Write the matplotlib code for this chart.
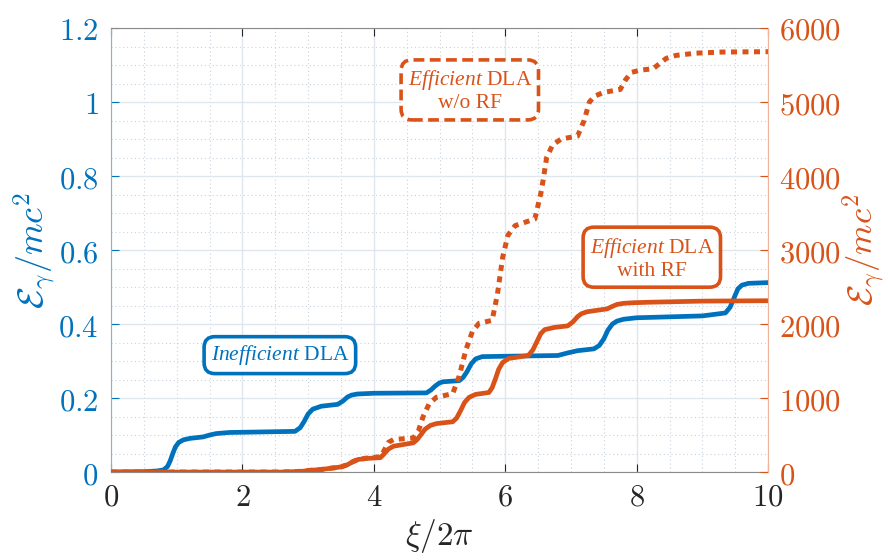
import matplotlib
matplotlib.use("Agg")
import matplotlib.pyplot as plt
from matplotlib.ticker import MultipleLocator, FuncFormatter, FixedLocator

plt.rcParams['mathtext.fontset'] = 'cm'
plt.rcParams['mathtext.it'] = 'Liberation Serif:italic'
plt.rcParams['mathtext.rm'] = 'Liberation Serif'
plt.rcParams['font.family'] = ['DejaVu Serif']

BLUE = '#0072BD'
ORANGE = '#D95319'

# ---------------- data ----------------
xi_ineff = [0, 0.5, 0.7, 0.8, 0.86, 0.9, 0.94, 0.98, 1.03, 1.1, 1.2, 1.4, 1.5,
            1.6, 1.8, 2.8, 2.88, 2.94, 3.0, 3.07, 3.2, 3.45, 3.53, 3.6, 3.66,
            3.75, 4.0, 4.8, 4.87, 4.93, 4.99, 5.05, 5.3, 5.36, 5.42, 5.48,
            5.55, 5.65, 6.0, 6.8, 6.95, 7.1, 7.35, 7.43, 7.5, 7.56, 7.63, 7.7,
            7.8, 8.0, 9.0, 9.35, 9.42, 9.48, 9.54, 9.6, 9.7, 10]
E_ineff = [0, 0.001, 0.003, 0.006, 0.015, 0.03, 0.05, 0.068, 0.08, 0.087,
           0.091, 0.095, 0.1, 0.104, 0.107, 0.11, 0.12, 0.137, 0.157, 0.17,
           0.178, 0.183, 0.192, 0.203, 0.208, 0.211, 0.213, 0.214, 0.222,
           0.232, 0.24, 0.244, 0.247, 0.256, 0.272, 0.292, 0.306, 0.312, 0.313,
           0.315, 0.322, 0.328, 0.333, 0.342, 0.36, 0.383, 0.4, 0.408, 0.413,
           0.417, 0.422, 0.43, 0.445, 0.47, 0.495, 0.505, 0.51, 0.512]

xi_rf = [0, 2.6, 2.9, 3.05, 3.2, 3.5, 3.6, 3.68, 3.76, 3.9, 4.1, 4.15, 4.22,
         4.3, 4.6, 4.66, 4.72, 4.78, 4.86, 4.95, 5.2, 5.26, 5.32, 5.38, 5.45,
         5.55, 5.75, 5.8, 5.85, 5.9, 5.96, 6.05, 6.35, 6.42, 6.48, 6.54, 6.6,
         6.75, 6.95, 7.03, 7.1, 7.16, 7.24, 7.35, 7.55, 7.62, 7.7, 7.8, 7.95,
         8.2, 9.0, 10]
E_rf = [0, 0, 10, 25, 35, 70, 100, 140, 170, 185, 195, 240, 310, 350, 395, 440,
        510, 580, 630, 655, 680, 730, 830, 940, 1010, 1050, 1075, 1140, 1260,
        1390, 1480, 1535, 1575, 1650, 1760, 1870, 1925, 1955, 1975, 2030, 2100,
        2140, 2165, 2180, 2205, 2235, 2265, 2280, 2288, 2295, 2310, 2315]

xi_norf = [0, 2.6, 2.9, 3.05, 3.2, 3.5, 3.6, 3.68, 3.76, 3.9, 4.1, 4.15, 4.22,
           4.3, 4.6, 4.68, 4.75, 4.84, 4.95, 5.2, 5.3, 5.4, 5.5, 5.6, 5.8,
           5.88, 5.96, 6.04, 6.15, 6.45, 6.55, 6.63, 6.72, 6.85, 7.1, 7.2,
           7.28, 7.36, 7.5, 7.75, 7.83, 7.92, 8.05, 8.25, 8.35, 8.45, 8.6, 8.9,
           9.3, 10]
E_norf = [0, 0, 10, 25, 35, 70, 100, 140, 170, 190, 207, 280, 400, 440, 460,
          560, 750, 920, 1010, 1060, 1300, 1650, 1900, 2010, 2050, 2400, 2900,
          3200, 3330, 3420, 3800, 4250, 4420, 4500, 4540, 4750, 5000, 5080,
          5130, 5170, 5300, 5400, 5430, 5450, 5520, 5590, 5630, 5660, 5675, 5680]

x_ticks = [0, 2, 4, 6, 8, 10]
yl_ticks = [0, 0.2, 0.4, 0.6, 0.8, 1.0, 1.2]
yr_ticks = [0, 1000, 2000, 3000, 4000, 5000, 6000]

# ---------------- figure ----------------
fig = plt.figure(figsize=(8.88, 5.6), dpi=100)
ax = fig.add_axes([0.125, 0.157, 0.74, 0.793])
ax2 = ax.twinx()

ax.set_xlim(0, 10)
ax.set_ylim(0, 1.2)
ax2.set_ylim(0, 6000)

ax.xaxis.set_major_locator(FixedLocator(x_ticks))
ax.xaxis.set_minor_locator(MultipleLocator(0.5))
ax.yaxis.set_major_locator(FixedLocator(yl_ticks))
ax.yaxis.set_minor_locator(MultipleLocator(0.05))
ax2.yaxis.set_major_locator(FixedLocator(yr_ticks))

fmt = FuncFormatter(lambda v, p: '$%g$' % round(v, 3))
ax.xaxis.set_major_formatter(fmt)
ax.yaxis.set_major_formatter(fmt)
ax2.yaxis.set_major_formatter(fmt)

ax.grid(which='major', color='#dfe6ee', linewidth=1.0, linestyle='-')
ax.grid(which='minor', color='#c9d2dc', linewidth=0.8, linestyle=(0, (1, 2.5)))
ax.set_axisbelow(True)

ax.tick_params(axis='x', which='major', direction='in', length=6, width=0.8,
               colors='#262626', labelsize=22, top=True, pad=7)
ax.tick_params(axis='x', which='minor', length=0)
ax.tick_params(axis='y', which='major', direction='in', length=6, width=0.8,
               colors=BLUE, labelsize=22, pad=9)
ax.tick_params(axis='y', which='minor', length=0)
ax2.tick_params(axis='y', which='major', direction='in', length=6, width=0.8,
                colors=ORANGE, labelsize=22, pad=8)

for s in ['top', 'bottom']:
    ax.spines[s].set_color('#8a8a8a')
    ax2.spines[s].set_visible(False)
ax.spines['left'].set_color('#7fb3dc')
ax.spines['right'].set_visible(False)
ax2.spines['left'].set_visible(False)
ax2.spines['right'].set_color('#f0b49c')

ax.plot(xi_ineff, E_ineff, color=BLUE, lw=3.4, solid_capstyle='butt',
        solid_joinstyle='round')
ax2.plot(xi_rf, E_rf, color=ORANGE, lw=3.4, solid_capstyle='butt',
         solid_joinstyle='round')
ax2.plot(xi_norf, E_norf, color=ORANGE, lw=3.6, linestyle=(0, (1.2, 1.1)),
         dash_capstyle='butt')

ax.set_xlabel(r'$\xi/2\pi$', fontsize=24, color='#262626', labelpad=3)
ax.set_ylabel(r'$\mathcal{E}_\gamma/mc^2$', fontsize=26, color=BLUE, labelpad=0)
ax2.set_ylabel(r'$\mathcal{E}_\gamma/mc^2$', fontsize=25, color=ORANGE,
               rotation=90, labelpad=-1)


def box_text(x, y, s, color, ls='-'):
    t = ax.text(x, y, s, ha='center', va='center', fontsize=15.5, color=color,
                family='Liberation Serif', math_fontfamily='custom',
                linespacing=1.15,
                bbox=dict(boxstyle='round,pad=0.3,rounding_size=0.5',
                          facecolor='white', edgecolor=color, linewidth=2.6,
                          linestyle=ls))
    return t

box_text(2.57, 0.316, r'$\mathit{Inefficient}$ DLA', BLUE)
box_text(5.46, 1.03, '$\\mathit{Efficient}$ DLA\nw/o RF', ORANGE, ls=(0, (3, 1.5)))
box_text(8.23, 0.578, '$\\mathit{Efficient}$ DLA\nwith RF', ORANGE)

fig.savefig('out.png', dpi=100)
